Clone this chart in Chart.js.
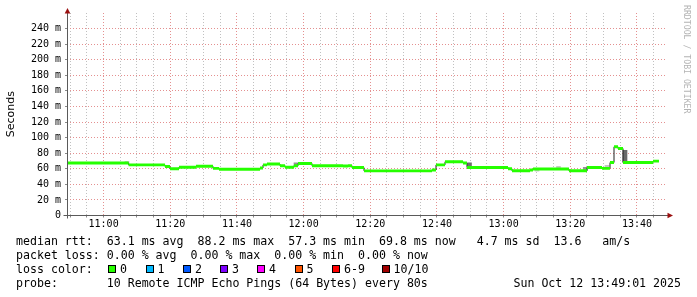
<!DOCTYPE html>
<html>
<head>
<meta charset="utf-8">
<script src="https://cdn.jsdelivr.net/npm/chart.js@4.4.1/dist/chart.umd.min.js"></script>
<style>
html, body { margin: 0; padding: 0; background: #fff; }
#wrap { position: relative; width: 697px; height: 297px; overflow: hidden; }
#c { position: absolute; left: 0; top: 0; }
.txt { position: absolute; font-family: "DejaVu Sans Mono", monospace; font-size: 11.6px; line-height: 14px; white-space: pre; color: #000; }
.sq { position: absolute; top: 265px; width: 6px; height: 6px; border: 1px solid #000; }
#brand { position: absolute; left: 682px; top: 5px; writing-mode: vertical-rl; font-family: "DejaVu Sans Mono", monospace; font-size: 8.2px; color: #b4b4b4; white-space: pre; }
</style>
</head>
<body>
<div id="wrap">
  <canvas id="c" width="697" height="297"></canvas>
  <div id="brand">RRDTOOL / TOBI OETIKER</div>
  <div class="txt" style="left:16px;top:234px">median rtt:  63.1 ms avg  88.2 ms max  57.3 ms min  69.8 ms now   4.7 ms sd  13.6   am/s</div>
  <div class="txt" style="left:16px;top:248px">packet loss: 0.00 % avg  0.00 % max  0.00 % min  0.00 % now</div>
  <div class="txt" style="left:16px;top:262px" id="lossrow">loss color:</div>
  <div class="txt" style="left:16px;top:276px">probe:       10 Remote ICMP Echo Pings (64 Bytes) every 80s</div>
  <div class="txt" style="right:16px;top:276px">Sun Oct 12 13:49:01 2025</div>
</div>
<script>
// median rtt (ms), each value holds from its time until the next one
const medianTimes = ['10:49:10', '11:07:30', '11:18:25', '11:19:55', '11:22:37', '11:27:43', '11:32:49',
    '11:34:37', '11:46:55', '11:47:49', '11:49:01', '11:52:55', '11:54:25', '11:57:07', '11:58:19',
    '12:02:31', '12:11:49', '12:13:19', '12:14:31', '12:18:07', '12:38:31', '12:39:43', '12:42:25',
    '12:47:49', '12:49:01', '13:01:19', '13:02:31', '13:07:55', '13:08:49', '13:19:37', '13:25:01',
    '13:29:31', '13:31:55', '13:33:07', '13:34:19', '13:35:49', '13:44:49', '13:46:37'];
const medianValues = [67.5, 65.0, 63.0, 60.0, 62.0, 63.2, 60.5,
    59.5, 61.0, 65.0, 66.0, 64.0, 62.0, 64.0, 66.8,
    64.0, 63.5, 64.0, 61.5, 57.3, 58.5, 65.0, 69.0,
    67.5, 61.5, 60.0, 57.4, 58.5, 59.6, 57.4, 61.5,
    60.5, 68.0, 88.2, 86.0, 68.0, 69.8, 69.8];

// smoke (spread of the single pings)
const smokeTimes = ['11:07:01', '11:57:43', '12:49:46', '13:10:01', '13:16:28', '13:24:30', '13:31:01', '13:36:25'];
const smokeLow = [67.0, 64.0, 61.5, 56.8, 59.6, 58.0, 61.5, 68.5];
const smokeHigh = [69.5, 67.5, 67.5, 59.0, 63.0, 62.0, 64.5, 83.7];
const smokeDensity = [0.1, 0.5, 0.8, 0.1, 0.1, 0.5, 0.15, 0.85];

const xLabels = ['11:00', '11:20', '11:40', '12:00', '12:20', '12:40', '13:00', '13:20', '13:40'];
const yLabels = [0, 20, 40, 60, 80, 100, 120, 140, 160, 180, 200, 220, 240];

const lossNames = ['0', '1', '2', '3', '4', '5', '6-9', '10/10'];
const lossColors = ['#26ff00', '#00b8ff', '#0059ff', '#7e00ff', '#ff00ff', '#ff5500', '#ff0000', '#a10000'];

const startTime = '10:49:01';
const endTime = '13:49:01';

function toSec(t) {
    const p = t.split(':').map(Number);
    return p[0] * 3600 + p[1] * 60 + (p[2] || 0);
}
function fmt(s) {
    const h = Math.floor(s / 3600), m = Math.floor((s % 3600) / 60);
    return String(h).padStart(2, '0') + ':' + String(m).padStart(2, '0');
}
function shade(d) {
    const g = Math.round(215 - d * 130);
    return 'rgb(' + g + ',' + g + ',' + g + ')';
}

// loss colour legend
const squareLeft = [108, 145.5, 183, 220, 257, 294.5, 332, 381.5];
const wrap = document.getElementById('wrap');
lossNames.forEach((name, i) => {
    const sq = document.createElement('div');
    sq.className = 'sq';
    sq.style.left = squareLeft[i] + 'px';
    sq.style.background = lossColors[i];
    wrap.appendChild(sq);
    const lab = document.createElement('div');
    lab.className = 'txt';
    lab.style.left = (squareLeft[i] + 12) + 'px';
    lab.style.top = '262px';
    lab.textContent = name;
    wrap.appendChild(lab);
});

const bandHalf = 1.9;
const medianPts = medianTimes.map((t, i) => ({ x: toSec(t), y: medianValues[i] }));
const minorGrid = '#c0c0c0';
const majorGrid = '#e49090';

function isMajorX(v) { return xLabels.includes(fmt(v)); }
function isMajorY(v) { return yLabels.includes(v); }

const axesPlugin = {
    id: 'rrdAxes',
    afterDraw(chart) {
        const { ctx, chartArea: a } = chart;
        const x0 = Math.round(a.left - 0.5) + 0.5;
        const y0 = Math.round(a.bottom - 0.5) + 0.5;
        ctx.save();
        ctx.strokeStyle = '#5a5a5a';
        ctx.lineWidth = 1;
        ctx.beginPath();
        ctx.moveTo(x0, y0 + 3);
        ctx.lineTo(x0, a.top);
        ctx.moveTo(x0 - 4, y0);
        ctx.lineTo(a.right + 1, y0);
        ctx.stroke();
        ctx.fillStyle = '#9b1010';
        ctx.beginPath();
        ctx.moveTo(x0, a.top - 5);
        ctx.lineTo(x0 - 2.8, a.top + 0.5);
        ctx.lineTo(x0 + 2.8, a.top + 0.5);
        ctx.closePath();
        ctx.fill();
        ctx.beginPath();
        ctx.moveTo(a.right + 6, y0);
        ctx.lineTo(a.right + 0.5, y0 - 2.8);
        ctx.lineTo(a.right + 0.5, y0 + 2.8);
        ctx.closePath();
        ctx.fill();
        ctx.restore();
    }
};

new Chart(document.getElementById('c'), {
    type: 'line',
    data: {
        datasets: [
            {
                type: 'bar',
                data: smokeTimes.map((t, i) => ({ x: toSec(t), y: [smokeLow[i], smokeHigh[i]] })),
                backgroundColor: smokeDensity.map(shade),
                borderWidth: 0,
                barThickness: 4,
                grouped: false,
                order: 4
            },
            {
                data: medianPts,
                borderColor: '#202020',
                borderWidth: 1,
                stepped: true,
                pointRadius: 0,
                fill: false,
                order: 3
            },
            {
                data: medianPts.map(p => ({ x: p.x, y: p.y - bandHalf })),
                borderWidth: 0,
                borderColor: 'rgba(0,0,0,0)',
                stepped: true,
                pointRadius: 0,
                fill: false,
                order: 2
            },
            {
                data: medianPts.map(p => ({ x: p.x, y: p.y + bandHalf })),
                borderWidth: 0,
                borderColor: 'rgba(0,0,0,0)',
                backgroundColor: lossColors[0],
                stepped: true,
                pointRadius: 0,
                fill: '-1',
                order: 1
            }
        ]
    },
    options: {
        responsive: false,
        animation: false,
        devicePixelRatio: 1,
        layout: { padding: { left: 0, top: 13, right: 30, bottom: 0 } },
        plugins: { legend: { display: false }, tooltip: { enabled: false } },
        scales: {
            x: {
                type: 'linear',
                min: toSec(startTime),
                max: toSec(endTime),
                offset: false,
                afterBuildTicks: s => {
                    const ticks = [];
                    for (let v = Math.ceil(s.min / 300) * 300; v < s.max; v += 300) ticks.push({ value: v });
                    s.ticks = ticks;
                },
                afterFit: s => { s.height = 81.5; },
                ticks: {
                    autoSkip: false,
                    maxRotation: 0,
                    padding: 1,
                    color: '#000',
                    font: { family: 'DejaVu Sans Mono', size: 10 },
                    callback: v => xLabels.includes(fmt(v)) ? fmt(v) : ''
                },
                grid: {
                    offset: false,
                    lineWidth: 1,
                    tickLength: 2,
                    color: ctx => (ctx.tick && isMajorX(ctx.tick.value)) ? majorGrid : minorGrid,
                    tickColor: '#8a8a8a'
                },
                border: { display: false, dash: [1, 2] }
            },
            y: {
                min: 0,
                max: 260,
                afterFit: s => { s.width = 67; },
                ticks: {
                    stepSize: 10,
                    padding: 4,
                    color: '#000',
                    font: { family: 'DejaVu Sans Mono', size: 10 },
                    callback: v => yLabels.includes(v) ? (v === 0 ? '0' : v + ' m') : ''
                },
                grid: {
                    lineWidth: 1,
                    tickLength: 2,
                    color: ctx => {
                        if (!ctx.tick || ctx.tick.value >= 260) return 'rgba(0,0,0,0)';
                        return isMajorY(ctx.tick.value) ? majorGrid : minorGrid;
                    },
                    tickColor: ctx => (ctx.tick && ctx.tick.value >= 260) ? 'rgba(0,0,0,0)' : '#8a8a8a'
                },
                border: { display: false, dash: [1, 2] },
                title: {
                    display: true,
                    text: 'Seconds',
                    color: '#000',
                    font: { family: 'DejaVu Sans', size: 11 },
                    padding: { top: 5, bottom: 0 }
                }
            }
        }
    },
    plugins: [axesPlugin]
});
</script>
</body>
</html>
